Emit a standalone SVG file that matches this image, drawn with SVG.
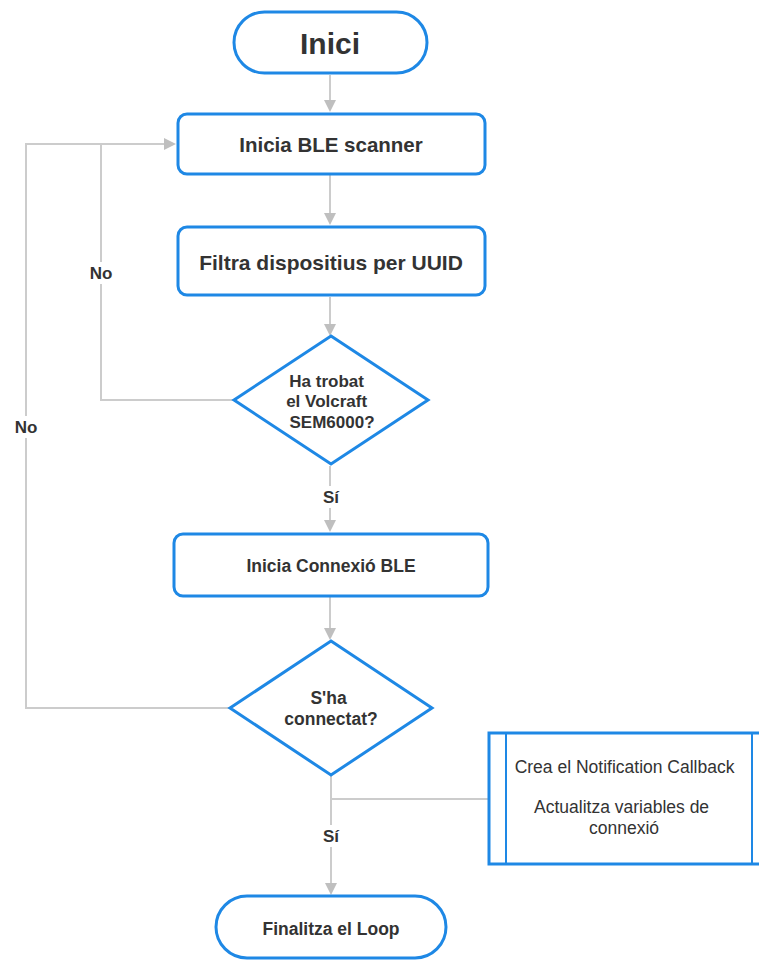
<svg xmlns="http://www.w3.org/2000/svg" width="759" height="960" viewBox="0 0 759 960">
  <style>
    .shape { fill: #ffffff; stroke: #1e88e5; stroke-width: 3; }
    .edge { fill: none; stroke: #cccccc; stroke-width: 2; }
    .head { fill: #bfbfbf; }
    .t { font-family: "Liberation Sans", Arial, sans-serif; fill: #333333; text-anchor: middle; }
    .b { font-weight: bold; }
    .lbl { font-family: "Liberation Sans", Arial, sans-serif; font-weight: bold; font-size: 17px; fill: #333333; text-anchor: middle; }
  </style>
  <rect width="759" height="960" fill="#ffffff"/>

  <g id="connectors">
    <path class="edge" d="M330,75 V106"/>
    <path class="head" d="M324,100 L336,100 L330,112 z"/>

    <path class="edge" d="M330,175 V219"/>
    <path class="head" d="M324,213 L336,213 L330,225 z"/>

    <path class="edge" d="M330,297 V330"/>
    <path class="head" d="M324,324 L336,324 L330,336 z"/>

    <!-- No: back to scanner -->
    <path class="edge" d="M234,400 H101 V144 H170"/>
    <path class="head" d="M164,138 L164,150 L176,144 z"/>
    <!-- No: from connection check -->
    <path class="edge" d="M230,708 H26 V144 H101"/>

    <path class="edge" d="M330,466 V526"/>
    <path class="head" d="M324,520 L336,520 L330,532 z"/>

    <path class="edge" d="M330,597 V633"/>
    <path class="head" d="M324,628 L336,628 L330,640 z"/>

    <path class="edge" d="M331,776 V888"/>
    <path class="head" d="M325,883 L337,883 L331,895 z"/>
    <path class="edge" d="M331,799 H489"/>

    <rect x="84" y="262" width="34" height="22" fill="#ffffff"/>
    <text class="lbl" x="101" y="279">No</text>
    <rect x="9" y="416" width="34" height="22" fill="#ffffff"/>
    <text class="lbl" x="26" y="433">No</text>
    <rect x="317" y="486" width="28" height="22" fill="#ffffff"/>
    <text class="lbl" x="331" y="503">Sí</text>
    <rect x="317" y="825" width="28" height="22" fill="#ffffff"/>
    <text class="lbl" x="331" y="842">Sí</text>
  </g>

  <g id="inici">
    <rect class="shape" x="234" y="12" width="193" height="61" rx="30.5"/>
    <text class="t b" x="330" y="54" font-size="30">Inici</text>
  </g>

  <g id="scanner">
    <rect class="shape" x="178" y="114" width="307" height="60" rx="9"/>
    <text class="t b" x="331" y="152" font-size="20.5">Inicia BLE scanner</text>
  </g>

  <g id="filtra">
    <rect class="shape" x="178" y="227" width="307" height="68" rx="9"/>
    <text class="t b" x="331" y="270" font-size="21">Filtra dispositius per UUID</text>
  </g>

  <g id="trobat">
    <polygon class="shape" points="331,336 428,400 331,464 234,400"/>
    <text class="t b" font-size="17">
      <tspan x="329" y="387">Ha trobat</tspan>
      <tspan x="329" y="407">el Volcraft</tspan>
      <tspan x="332" y="428">SEM6000?</tspan>
    </text>
  </g>

  <g id="connexio">
    <rect class="shape" x="174" y="534" width="314" height="62" rx="9"/>
    <text class="t b" x="331" y="572" font-size="17.5">Inicia Connexió BLE</text>
  </g>

  <g id="connectat">
    <polygon class="shape" points="331,641 432,708 331,775 230,708"/>
    <text class="t b" font-size="17.5">
      <tspan x="331" y="704">S'ha</tspan>
      <tspan x="331" y="725">connectat?</tspan>
    </text>
  </g>

  <g id="callback">
    <rect class="shape" x="489" y="733" width="280" height="131"/>
    <line x1="506" y1="733" x2="506" y2="864" stroke="#1e88e5" stroke-width="2"/>
    <line x1="752" y1="733" x2="752" y2="864" stroke="#1e88e5" stroke-width="2"/>
    <text class="t" font-size="17.5">
      <tspan x="627" y="773">Crea el Notification Callback</tspan>
      <tspan x="624" y="813">Actualitza variables de</tspan>
      <tspan x="624" y="834">connexió</tspan>
    </text>
  </g>

  <g id="finalitza">
    <rect class="shape" x="216" y="896" width="230" height="62" rx="31"/>
    <text class="t b" x="331" y="935" font-size="17.5">Finalitza el Loop</text>
  </g>
</svg>
